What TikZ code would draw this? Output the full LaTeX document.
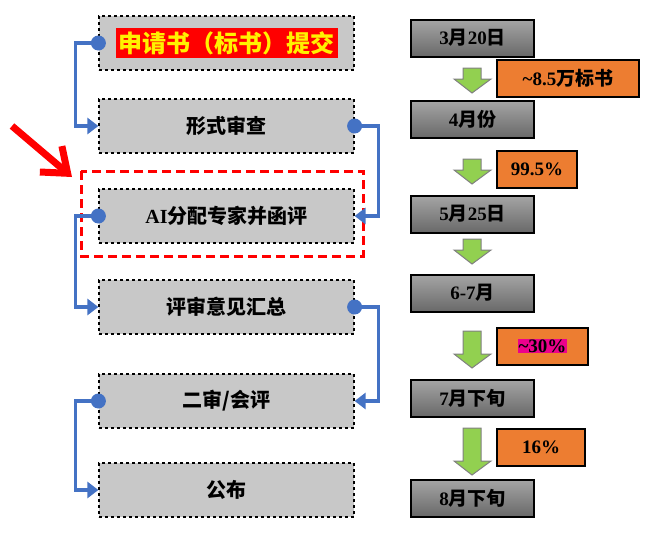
\documentclass[tikz,border=0pt]{standalone}
\usepackage{fontspec}
\setmainfont{Liberation Serif}
\newfontfamily\cjk{Noto Sans CJK SC}
\usetikzlibrary{arrows.meta}
\definecolor{conn}{RGB}{68,114,196}
\definecolor{stepgray}{RGB}{200,200,200}
\definecolor{orng}{RGB}{237,125,49}
\definecolor{grn}{RGB}{146,208,80}
\begin{document}
\begin{tikzpicture}[x=1pt,y=-1pt,
  stepbox/.style={draw=black,dashed,line width=1.2pt,fill=stepgray,minimum width=255pt,minimum height=54pt,inner sep=0pt,font=\bfseries\fontsize{20}{22}\selectfont},
  datebox/.style={draw=black,line width=2pt,top color={rgb,255:red,165;green,165;blue,165},bottom color={rgb,255:red,105;green,105;blue,105},minimum width=123pt,minimum height=37pt,inner sep=0pt,font=\bfseries\fontsize{19}{21}\selectfont},
  numbox/.style={draw=black,line width=2pt,fill=orng,minimum height=37pt,inner sep=0pt,font=\bfseries\fontsize{19}{21}\selectfont},
  conline/.style={draw=conn,line width=3.5pt,-{Triangle[length=11pt,width=16pt]}},
  dot/.style={circle,fill=conn,minimum size=15pt,inner sep=0pt},
  garrow/.style={fill=grn,draw=gray,line width=1pt}]
\useasboundingbox (0,0) rectangle (654,539);
% steps
\node[stepbox] (s1) at (226.5,43) {\fontsize{24}{26}\selectfont\colorbox{red}{\cjk\color{yellow}申请书（标书）提交}};
\node[stepbox] (s2) at (226.5,126) {\cjk 形式审查};
\node[stepbox] (s3) at (226.5,216) {AI{\cjk 分配专家并函评}};
\node[stepbox] (s4) at (226.5,307) {\cjk 评审意见汇总};
\node[stepbox] (s5) at (226.5,401) {\cjk 二审/会评};
\node[stepbox] (s6) at (226.5,490) {\cjk 公布};
\draw[red,dashed,line width=3pt,dash pattern=on 9pt off 5pt] (81,171) rectangle (363,256);
\coordinate (r1) at (12,126);
\coordinate (r2) at (72,177);
\draw[red,line width=7pt,-{Straight Barb[length=22pt,width=34pt,line width=7pt]}] (r1) -- (r2);
% connectors
\node[dot] (d1) at (s1.west) {};
\node[dot] (d2) at (s2.east) {};
\node[dot] (d3) at (s3.west) {};
\node[dot] (d4) at (s4.east) {};
\node[dot] (d5) at (s5.west) {};
\draw[conline] (d1.center) -- ++(-23,0) |- (s2.west);
\draw[conline] (d2.center) -- ++(24,0) |- (s3.east);
\draw[conline] (d3.center) -- ++(-23,0) |- (s4.west);
\draw[conline] (d4.center) -- ++(24,0) |- (s5.east);
\draw[conline] (d5.center) -- ++(-23,0) |- (s6.west);
% dates
\node[datebox] (t1) at (472.5,38) {3{\cjk 月}20{\cjk 日}};
\node[datebox] (t2) at (472.5,119) {4{\cjk 月份}};
\node[datebox] (t3) at (472.5,214) {5{\cjk 月}25{\cjk 日}};
\node[datebox] (t4) at (472.5,293) {6-7{\cjk 月}};
\node[datebox] (t5) at (472.5,398) {7{\cjk 月下旬}};
\node[datebox] (t6) at (472.5,498) {8{\cjk 月下旬}};
% green arrows
\foreach \a/\b in {68/93,159/184,239/264,331/368,428/475}{
  \draw[garrow] (463,\a) -- (481,\a) -- (481,\b-14) -- (491,\b-14) -- (472,\b) -- (454,\b-14) -- (463,\b-14) -- cycle;
}
% numbers
\node[numbox,minimum width=142pt] (n1) at (568,78.5) {\textasciitilde8.5{\cjk 万标书}};
\node[numbox,minimum width=80pt] (n2) at (537,169) {99.5\%};
\node[numbox,minimum width=91pt] (n3) at (542.5,346) {\setlength{\fboxsep}{1pt}\colorbox{magenta}{\textasciitilde30\%}};
\node[numbox,minimum width=88pt] (n4) at (541,447) {16\%};
\end{tikzpicture}
\end{document}
